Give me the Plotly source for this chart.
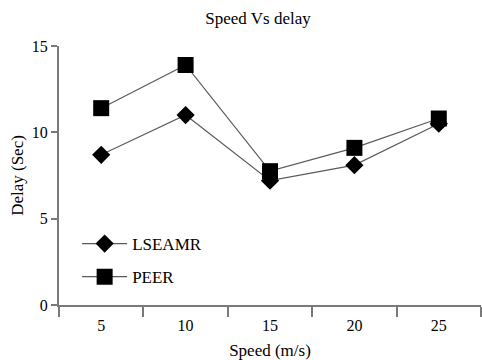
import plotly.graph_objects as go

speeds = ["5", "10", "15", "20", "25"]
lseamr = [8.7, 11.0, 7.2, 8.1, 10.5]
peer = [11.4, 13.9, 7.75, 9.1, 10.8]

FONT = "Liberation Serif, Times New Roman, serif"
LINE = "#5a5a5a"
AXIS = "#7a7a7a"

fig = go.Figure()
fig.add_trace(go.Scatter(
    x=speeds, y=lseamr, name="LSEAMR", mode="lines+markers",
    line=dict(color=LINE, width=1.2),
    marker=dict(symbol="diamond", size=14, color="black"),
    legendgroup="a",
))
fig.add_trace(go.Scatter(
    x=speeds, y=peer, name="PEER", mode="lines+markers",
    line=dict(color=LINE, width=1.2),
    marker=dict(symbol="square", size=16, color="black"),
    legendgroup="b",
))

fig.update_layout(
    width=482, height=360,
    margin=dict(l=59, r=1, t=46, b=55),
    paper_bgcolor="white", plot_bgcolor="white",
    font=dict(family=FONT, size=16, color="black"),
    title=dict(text="Speed Vs delay", x=258/482, xref="container", xanchor="center",
               y=1-18/360, yref="container", yanchor="middle",
               font=dict(family=FONT, size=17)),
    legend=dict(x=0.043, y=0.305, xanchor="left", yanchor="top",
                bgcolor="rgba(0,0,0,0)", font=dict(family=FONT, size=17),
                traceorder="grouped", tracegroupgap=8, itemwidth=45),
    showlegend=True,
)
fig.update_xaxes(
    type="category", range=[-0.5, 4.5], tickson="boundaries",
    ticks="outside", ticklen=10, tickwidth=1.5, tickcolor=AXIS,
    showline=True, linecolor=AXIS, linewidth=2, showgrid=False, zeroline=False,
    title=dict(text="Speed (m/s)", font=dict(family=FONT, size=17), standoff=12),
    tickfont=dict(size=16), ticklabelstandoff=5,
)
fig.update_yaxes(
    range=[0, 15], dtick=5, tick0=0,
    ticks="outside", ticklen=6, tickwidth=1.5, tickcolor=AXIS,
    showline=True, linecolor=AXIS, linewidth=2, showgrid=False, zeroline=False,
    title=dict(text="Delay (Sec)", font=dict(family=FONT, size=17), standoff=4),
    tickfont=dict(size=16),
)

fig.write_html("out.html", config={"displayModeBar": False},
               post_script="document.body.style.margin='0px';")
